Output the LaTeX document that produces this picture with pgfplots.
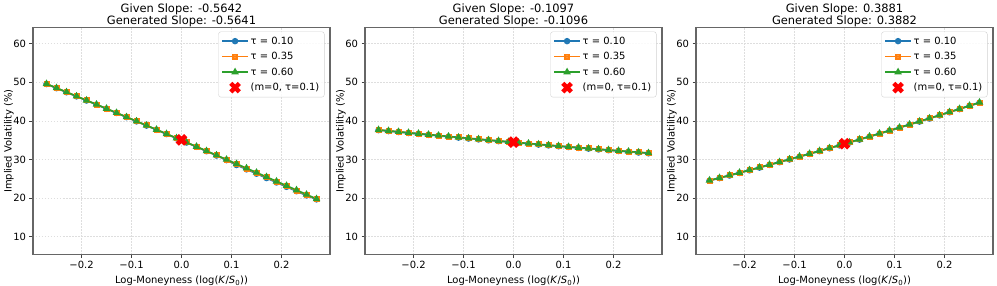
\documentclass[border=0pt]{standalone}
\usepackage{fontspec}
\setmainfont{DejaVu Sans}
\usepackage{pgfplots}
\pgfplotsset{compat=1.18}
\usepackage{pgfplotstable}
\definecolor{tabblue}{RGB}{31,119,180}
\definecolor{taborange}{RGB}{255,127,14}
\definecolor{tabgreen}{RGB}{44,160,44}

\pgfplotstableread{
m a b c
-0.27 49.56 49.59 49.61
-0.25 48.49 48.52 48.54
-0.23 47.43 47.46 47.48
-0.21 46.36 46.39 46.41
-0.19 45.29 45.32 45.34
-0.17 44.22 44.25 44.27
-0.15 43.14 43.17 43.19
-0.13 42.06 42.09 42.11
-0.11 40.97 41.00 41.02
-0.09 39.89 39.92 39.94
-0.07 38.79 38.82 38.84
-0.05 37.70 37.73 37.75
-0.03 36.60 36.63 36.65
-0.01 35.50 35.53 35.55
0.01 34.40 34.43 34.45
0.03 33.29 33.32 33.34
0.05 32.16 32.20 32.23
0.07 31.03 31.08 31.12
0.09 29.85 29.94 30.00
0.11 28.58 28.76 28.88
0.13 27.46 27.64 27.76
0.15 26.33 26.51 26.63
0.17 25.20 25.38 25.50
0.19 24.06 24.24 24.36
0.21 22.93 23.11 23.23
0.23 21.79 21.97 22.09
0.25 20.70 20.84 20.94
0.27 19.68 19.74 19.80
}\tabA

\pgfplotstableread{
m a b c
-0.27 37.61 37.65 37.69
-0.25 37.36 37.40 37.44
-0.23 37.12 37.16 37.20
-0.21 36.87 36.91 36.95
-0.19 36.63 36.67 36.71
-0.17 36.39 36.43 36.47
-0.15 36.15 36.19 36.23
-0.13 35.91 35.95 35.99
-0.11 35.67 35.71 35.75
-0.09 35.44 35.48 35.52
-0.07 35.21 35.25 35.29
-0.05 34.98 35.02 35.06
-0.03 34.76 34.80 34.84
-0.01 34.53 34.57 34.61
0.01 34.31 34.35 34.39
0.03 34.09 34.13 34.17
0.05 33.87 33.91 33.95
0.07 33.66 33.70 33.74
0.09 33.44 33.48 33.52
0.11 33.23 33.27 33.31
0.13 33.02 33.06 33.10
0.15 32.82 32.86 32.90
0.17 32.61 32.65 32.69
0.19 32.41 32.45 32.49
0.21 32.21 32.25 32.29
0.23 32.01 32.05 32.09
0.25 31.81 31.85 31.89
0.27 31.62 31.66 31.70
}\tabB

\pgfplotstableread{
m a b c
-0.27 24.52 24.56 24.60
-0.25 25.18 25.22 25.26
-0.23 25.85 25.89 25.93
-0.21 26.53 26.57 26.61
-0.19 27.21 27.25 27.29
-0.17 27.90 27.94 27.98
-0.15 28.60 28.64 28.68
-0.13 29.30 29.34 29.38
-0.11 30.01 30.05 30.09
-0.09 30.72 30.76 30.80
-0.07 31.44 31.48 31.52
-0.05 32.17 32.21 32.25
-0.03 32.91 32.95 32.99
-0.01 33.65 33.69 33.73
0.01 34.40 34.44 34.48
0.03 35.15 35.19 35.23
0.05 35.91 35.95 35.99
0.07 36.68 36.72 36.76
0.09 37.45 37.49 37.53
0.11 38.23 38.27 38.31
0.13 39.02 39.06 39.10
0.15 39.82 39.86 39.90
0.17 40.62 40.66 40.70
0.19 41.42 41.46 41.50
0.21 42.24 42.28 42.32
0.23 43.06 43.10 43.14
0.25 43.88 43.92 43.96
0.27 44.72 44.76 44.80
}\tabC

\pgfplotsset{
  volstyle/.style={
    scale only axis, width=297bp, height=227bp,
    xmin=-0.297, xmax=0.297, ymin=5.4, ymax=64.2,
    xtick={-0.2,-0.1,0,0.1,0.2},
    xticklabels={−0.2,−0.1,0.0,0.1,0.2},
    ytick={10,20,30,40,50,60},
    yticklabels={10,20,30,40,50,60},
    tick align=outside, xtick pos=bottom, ytick pos=left,
    major tick length=3.5bp,
    tick style={black!75, line width=0.8bp},
    axis line style={black!60, line width=1.1bp},
    grid=major,
    grid style={black!13, dash pattern=on 1.5bp off 1.5bp, line width=0.6bp},
    tick label style={font=\fontsize{10}{12}\selectfont},
    label style={font=\fontsize{10}{12}\selectfont},
    every axis title shift=0pt,
    title style={font=\fontsize{11.5}{12.3}\selectfont, align=center,
      at={(0.5,1)}, anchor=south, inner sep=1.5bp, yshift=-1.5bp},
    xlabel={Log-Moneyness (log(\textit{K}/\textit{S}\textsubscript{0}))},
    ylabel={Implied Volatility (\%)},
    ylabel style={at={(axis description cs:-0.053,0.5)}, anchor=south, rotate=0},
    legend cell align=left,
    legend style={at={(1,1)}, anchor=north east, xshift=-5.5bp, yshift=-4bp,
      draw=black!18, rounded corners=2.5bp, fill=white, fill opacity=0.85,
      text opacity=1, draw opacity=1,
      font=\fontsize{10}{12}\selectfont, inner sep=3bp, row sep=2.6bp},
    legend image code/.code={%
      \draw[mark repeat=2,mark phase=2] plot coordinates {(0cm,0cm) (0.45cm,0cm) (0.9cm,0cm)};},
    s1/.style={tabblue, line width=1.6bp, mark=*, mark size=2.4bp},
    s2/.style={taborange, line width=1.6bp, mark=square*, mark size=2.2bp},
    s3/.style={tabgreen, line width=1.6bp, mark=triangle*, mark size=2.8bp},
    sx/.style={only marks, color=red, mark=x, mark size=6bp,
      mark options={line width=4.5bp, line cap=butt}},
  }
}

\begin{document}
\begin{tikzpicture}
\path[use as bounding box] (0,0) rectangle (997bp,-286bp);

\begin{axis}[volstyle, at={(33bp,-27.5bp)}, anchor=north west,
  title={Given Slope: -0.5642\\Generated Slope: -0.5641}]
\addplot[s1] table[x=m,y=a]{\tabA};
\addlegendentry{τ = 0.10}
\addplot[s2] table[x=m,y=b]{\tabA};
\addlegendentry{τ = 0.35}
\addplot[s3] table[x=m,y=c]{\tabA};
\addlegendentry{τ = 0.60}
\addplot[sx] coordinates {(0,35.1)};
\addlegendentry{(m=0, τ=0.1)}
\end{axis}

\begin{axis}[volstyle, at={(365bp,-27.5bp)}, anchor=north west,
  title={Given Slope: -0.1097\\Generated Slope: -0.1096}]
\addplot[s1] table[x=m,y=a]{\tabB};
\addlegendentry{τ = 0.10}
\addplot[s2] table[x=m,y=b]{\tabB};
\addlegendentry{τ = 0.35}
\addplot[s3] table[x=m,y=c]{\tabB};
\addlegendentry{τ = 0.60}
\addplot[sx] coordinates {(0,34.5)};
\addlegendentry{(m=0, τ=0.1)}
\end{axis}

\begin{axis}[volstyle, at={(696bp,-27.5bp)}, anchor=north west,
  title={Given Slope: 0.3881\\Generated Slope: 0.3882}]
\addplot[s1] table[x=m,y=a]{\tabC};
\addlegendentry{τ = 0.10}
\addplot[s2] table[x=m,y=b]{\tabC};
\addlegendentry{τ = 0.35}
\addplot[s3] table[x=m,y=c]{\tabC};
\addlegendentry{τ = 0.60}
\addplot[sx] coordinates {(0,34.1)};
\addlegendentry{(m=0, τ=0.1)}
\end{axis}
\end{tikzpicture}
\end{document}
